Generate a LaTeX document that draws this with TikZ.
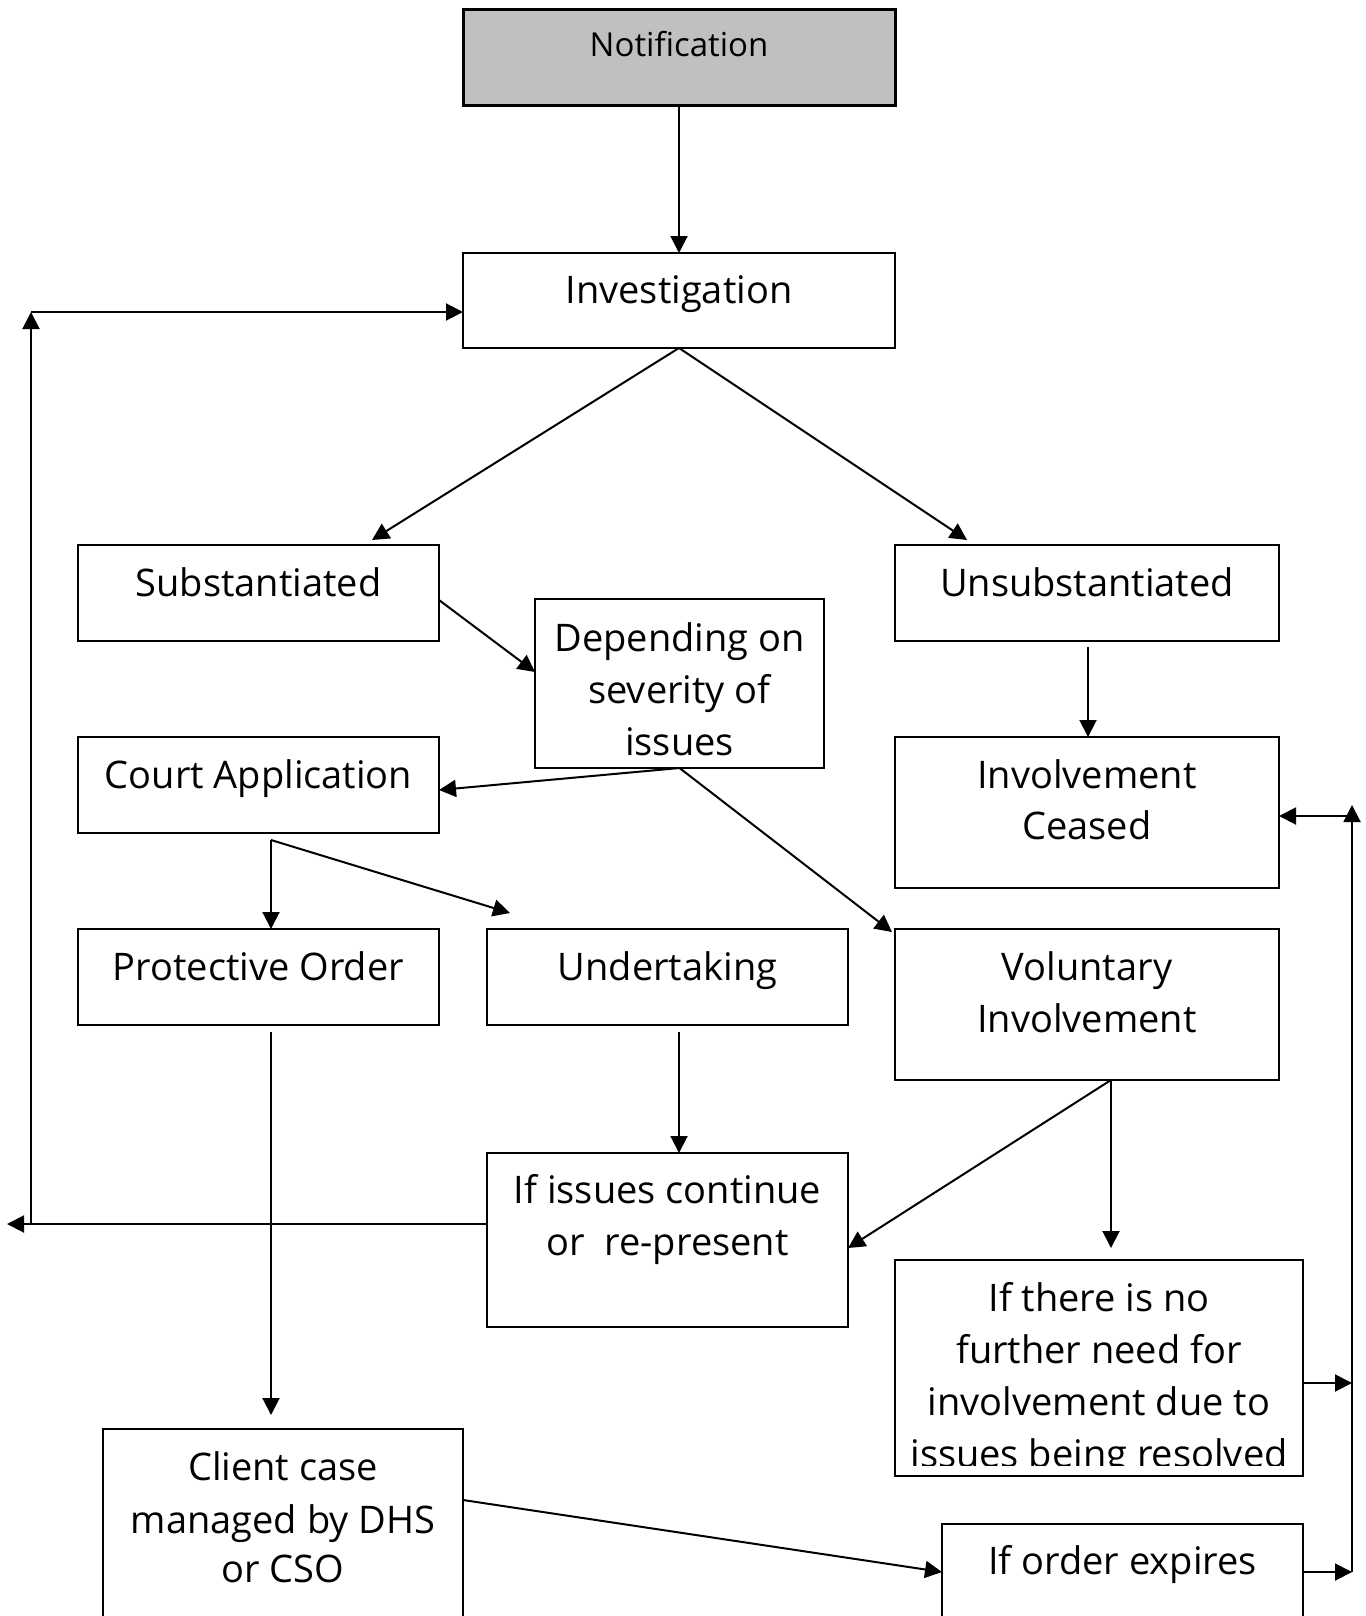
\documentclass[tikz,border=0pt]{standalone}
\usepackage{fontspec}
\setmainfont{Open Sans}
\usetikzlibrary{arrows.meta}
\definecolor{notifgray}{HTML}{C0C0C0}
\tikzset{
  box/.style={draw, line width=1pt, inner sep=0pt, outer sep=0pt},
  arr/.style={line width=1pt, -{Triangle[length=8.5pt,width=8.5pt]}},
  plain/.style={line width=1pt},
  txt/.style={anchor=base, inner sep=0pt, font=\fontsize{19pt}{23pt}\selectfont},
  smalltxt/.style={anchor=base, inner sep=0pt, font=\fontsize{16.5pt}{20pt}\selectfont},
}
\begin{document}
\begin{tikzpicture}[x=0.5pt,y=-0.5pt]
\useasboundingbox (0,0) rectangle (1365,1616);

% boxes
\node[box, line width=1.5pt, fill=notifgray, minimum width=216pt, minimum height=48pt] (notif) at (679,58) {};
\node[box, minimum width=216pt, minimum height=47.5pt] (inv) at (679,300.5) {};
\node[box, minimum width=180.5pt, minimum height=48pt] (subst) at (258.5,593) {};
\node[box, minimum width=192pt, minimum height=48pt] (unsub) at (1087,593) {};
\node[box, minimum width=144.5pt, minimum height=84.5pt] (dep) at (679.5,683.5) {};
\node[box, minimum width=180.5pt, minimum height=48pt] (court) at (258.5,785) {};
\node[box, minimum width=192pt, minimum height=75.5pt] (ic) at (1087,812.5) {};
\node[box, minimum width=180.5pt, minimum height=48pt] (prot) at (258.5,977) {};
\node[box, minimum width=180.5pt, minimum height=48pt] (und) at (667.5,977) {};
\node[box, minimum width=192pt, minimum height=75.5pt] (vi) at (1087,1004.5) {};
\node[box, minimum width=180.5pt, minimum height=87pt] (iss) at (667.5,1240) {};
\node[box, minimum width=204pt, minimum height=108pt] (noneed) at (1099,1368) {};
\node[box, minimum width=180pt, minimum height=110.5pt] (client) at (283,1539.5) {};
\node[box, minimum width=180.5pt, minimum height=63pt] (order) at (1122.5,1587) {};

% texts
\node[smalltxt] (notif-t) at (679,57) {Notification};
\node[txt] (inv-t) at (679,303) {Investigation};
\node[txt] (subst-t) at (258.5,596) {Substantiated};
\node[txt] (unsub-t) at (1087,596) {Unsubstantiated};
\node[txt] (dep-t1) at (679.5,651) {Depending on};
\node[txt] (dep-t2) at (679.5,703) {severity of};
\node[txt] (dep-t3) at (679.5,755) {issues};
\node[txt] (court-t) at (258.5,788) {Court Application};
\node[txt] (ic-t1) at (1087,788) {Involvement};
\node[txt] (ic-t2) at (1087,839) {Ceased};
\node[txt] (prot-t) at (258.5,980) {Protective Order};
\node[txt] (und-t) at (667.5,980) {Undertaking};
\node[txt] (vi-t1) at (1087,980) {Voluntary};
\node[txt] (vi-t2) at (1087,1032) {Involvement};
\node[txt] (iss-t1) at (667.5,1203) {If issues continue};
\node[txt] (iss-t2) at (667.5,1255) {or\ \ re-present};
\node[txt] (noneed-t1) at (1099,1311) {If there is no};
\node[txt] (noneed-t2) at (1099,1363) {further need for};
\node[txt] (noneed-t3) at (1099,1415) {involvement due to};
\begin{scope}
  \clip (895,1260) rectangle (1303,1465);
  \node[txt] (noneed-t4) at (1099,1467) {issues being resolved};
\end{scope}
\node[txt] (client-t1) at (283,1480) {Client case};
\node[txt] (client-t2) at (283,1533) {managed by DHS};
\node[txt] (client-t3) at (283,1582) {or CSO};
\node[txt] (order-t) at (1122.5,1574) {If order expires};

% free connector ends
\coordinate (c-subst) at (372,540);
\coordinate (c-unsub) at (967,540);
\coordinate (c-vi) at (892,932);
\coordinate (c-br) at (271,840);
\coordinate (c-und) at (510,913);
\coordinate (c-u1) at (1088,647);
\coordinate (c-p1) at (271,1032);
\coordinate (c-p2) at (271,1415);
\coordinate (c-u2) at (679,1032);
\coordinate (c-l1) at (7,1224);
\coordinate (c-l2) at (31,1224);
\coordinate (c-l3) at (31,312);
\coordinate (c-v1) at (1111,1080);
\coordinate (c-v2) at (1111,1248);
\coordinate (c-r1) at (1352,1383);
\coordinate (c-r2) at (1352,1572);
\coordinate (c-r4) at (1352,805);
\coordinate (c-r5) at (1352,816);

% connectors
\draw[arr] (notif.south) -- (inv.north);
\draw[arr] (inv.south) -- (c-subst);
\draw[arr] (inv.south) -- (c-unsub);
\draw[arr] ([yshift=-3.5pt]subst.east) -- ([yshift=5.75pt]dep.west);
\draw[arr] (dep.south) -- ([yshift=-2.5pt]court.east);
\draw[arr] (dep.south) -- (c-vi);
\draw[arr] (c-br) -- (prot.north -| c-br);
\draw[arr] (c-br) -- (c-und);
\draw[arr] (c-u1) -- (ic.north -| c-u1);
\draw[arr] (c-p1) -- (c-p2);
\draw[arr] (c-u2) -- (iss.north -| c-u2);
\draw[arr] ([yshift=8pt]iss.west) -- (c-l1);
\draw[arr] (c-l2) -- (c-l3);
\draw[arr] (c-l3) -- (inv.west |- c-l3);
\draw[arr] (c-v1) -- ([yshift=-4pt]iss.east);
\draw[arr] (c-v1) -- (c-v2);
\draw[arr] ([yshift=-7.5pt]noneed.east) -- (c-r1);
\draw[arr] ([yshift=7.5pt]order.east) -- (c-r2);
\draw[arr] (c-r2) -- (c-r4);
\draw[arr] (c-r5) -- (ic.east |- c-r5);
\draw[arr] ([yshift=19.75pt]client.east) -- ([yshift=7.5pt]order.west);
\end{tikzpicture}
\end{document}
